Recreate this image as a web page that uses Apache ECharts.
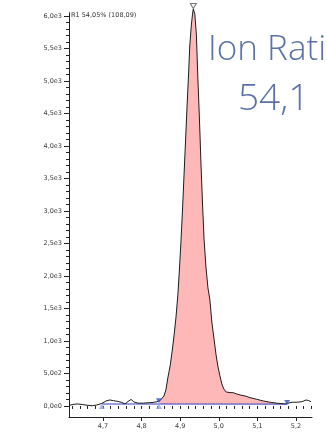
<!DOCTYPE html>
<html>
<head>
<meta charset="utf-8">
<style>
  html, body { margin: 0; padding: 0; background: #fff; }
  #chart { width: 327px; height: 433px; }
</style>
<script src="https://cdn.jsdelivr.net/npm/echarts@6/dist/echarts.min.js"></script>
</head>
<body>
<div id="chart"></div>
<script>
// Retention time (min) of each sample of the trace
const times = [
  4.612, 4.622, 4.633, 4.646, 4.659, 4.672, 4.684, 4.697, 4.708, 4.718,
  4.728, 4.739, 4.749, 4.757, 4.765, 4.773, 4.780, 4.791, 4.804, 4.817,
  4.830, 4.840, 4.848, 4.853, 4.858, 4.863, 4.868, 4.874, 4.879, 4.884,
  4.889, 4.894, 4.898, 4.902, 4.906, 4.910, 4.914, 4.918, 4.922, 4.925,
  4.929, 4.932, 4.934, 4.938, 4.942, 4.946, 4.950, 4.954, 4.958, 4.962,
  4.967, 4.972, 4.977, 4.982, 4.988, 4.993, 4.998, 5.003, 5.008, 5.013,
  5.019, 5.029, 5.037, 5.046, 5.055, 5.068, 5.081, 5.098, 5.115, 5.133,
  5.151, 5.172, 5.179, 5.190, 5.203, 5.216, 5.226, 5.233, 5.239
];
// Signal intensity at each retention time
const intensities = [
  8, 23, 31, 23, 11, 3, 15, 38, 77, 92,
  80, 69, 54, 31, 69, 100, 62, 43, 43, 49,
  54, 65, 85, 108, 154, 246, 431, 615, 831, 1077,
  1354, 1708, 2092, 2523, 3015, 3554, 4092, 4631, 5138, 5554,
  5862, 6031, 6108, 6031, 5708, 5015, 4400, 3708, 3092, 2554,
  2123, 1815, 1631, 1292, 1015, 785, 600, 462, 338, 262,
  215, 205, 205, 185, 169, 154, 128, 103, 77, 57,
  42, 31, 42, 57, 57, 66, 92, 82, 66
];
// Integration window of the R1 peak and its baseline
const peakStart = 4.845;
const peakEnd = 5.177;
const peakApex = 4.935;
const apexHeight = 6108;
const baselineTimes = [4.697, 4.848, 5.177];
const baselineLevels = [30, 30, 28];
// Neighbouring integration markers
const prevMarkerTimes = [4.697, 4.845];
const peakMarkerTimes = [4.845, 5.177];
const peakMarkerLevels = [80, 55];
// Axis ticks
const yMajorTicks = [0, 500, 1000, 1500, 2000, 2500, 3000, 3500, 4000, 4500, 5000, 5500, 6000];
const xMajorTicks = [4.7, 4.8, 4.9, 5.0, 5.1, 5.2];
const peakLabel = 'R1 54,05% (108,09)';
const ratioTitle = 'Ion Ratio';
const ratioValue = '54,1';

const yMinorTicks = [];
for (let v = 0; v <= 6000; v += 100) yMinorTicks.push(v);
const xMinorTicks = [];
for (let k = 0; k <= 31; k++) xMinorTicks.push(+(4.62 + 0.02 * k).toFixed(2));

const trace = times.map((t, i) => [t, intensities[i]]);
const peakArea = trace.filter(p => p[0] >= peakStart - 1e-6 && p[0] <= peakEnd + 1e-6);
const baseline = baselineTimes.map((t, i) => [t, baselineLevels[i]]);

const yMin = -170, yMax = 6050;
const xMin = 4.612, xMax = 5.2415;

function sciLabel(v) {
  if (v === 0) return '0,0e0';
  const e = Math.floor(Math.log10(v) + 1e-9);
  const m = v / Math.pow(10, e);
  return m.toFixed(1).replace('.', ',') + 'e' + e;
}

const labelFont = { fontFamily: 'DejaVu Sans', fontSize: 6.5, color: '#3a3a3a' };

const chart = echarts.init(document.getElementById('chart'), null, { renderer: 'canvas' });
chart.setOption({
  animation: false,
  backgroundColor: '#ffffff',
  grid: { left: 69, right: 15, top: 12.75, bottom: 16, containLabel: false },
  xAxis: [
    {
      type: 'value', min: xMin, max: xMax,
      axisLine: { show: true, onZero: false, lineStyle: { color: '#222', width: 1 } },
      axisTick: { show: true, customValues: xMajorTicks, length: 4, lineStyle: { color: '#222' } },
      axisLabel: Object.assign({ show: true, customValues: xMajorTicks, margin: 6,
        formatter: v => v.toFixed(1).replace('.', ',') }, labelFont),
      splitLine: { show: false }
    },
    {
      type: 'value', min: xMin, max: xMax, position: 'bottom', gridIndex: 0,
      axisLine: { show: false },
      axisTick: { show: true, customValues: xMinorTicks, length: 3, lineStyle: { color: '#222' } },
      axisLabel: { show: false },
      splitLine: { show: false }
    }
  ],
  yAxis: [
    {
      type: 'value', min: yMin, max: yMax,
      axisLine: { show: true, onZero: false, lineStyle: { color: '#222', width: 1 } },
      axisTick: { show: true, customValues: yMajorTicks, length: 5, lineStyle: { color: '#222' } },
      axisLabel: Object.assign({ show: true, customValues: yMajorTicks, margin: 7,
        formatter: sciLabel }, labelFont),
      splitLine: { show: false }
    },
    {
      type: 'value', min: yMin, max: yMax, position: 'left', gridIndex: 0,
      axisLine: { show: false },
      axisTick: { show: true, customValues: yMinorTicks, length: 3, lineStyle: { color: '#222' } },
      axisLabel: { show: false },
      splitLine: { show: false }
    }
  ],
  series: [
    {
      name: 'R1 area', type: 'line', data: peakArea, clip: false,
      symbol: 'none', lineStyle: { width: 0 },
      areaStyle: { color: '#ffb8b8', opacity: 1, origin: 29 },
      z: 1
    },
    {
      name: 'Baseline', type: 'line', data: baseline, clip: false,
      symbol: 'none', lineStyle: { color: '#2c3cc0', width: 1 },
      z: 2
    },
    {
      name: 'Trace', type: 'line', data: trace, clip: false,
      symbol: 'none', lineStyle: { color: '#1c1c1c', width: 1 },
      z: 3,
      markLine: {
        silent: true, symbol: 'none', label: { show: false },
        lineStyle: { color: '#3a3a90', width: 1, type: [3, 2] },
        data: [[{ coord: [peakApex, apexHeight] }, { coord: [peakApex, yMin] }]]
      }
    },
    {
      name: 'Previous markers', type: 'scatter', clip: false,
      data: prevMarkerTimes.map(t => [t, -10]),
      symbol: 'triangle', symbolSize: [6, 5],
      itemStyle: { color: '#8ea3e8' }, z: 4
    },
    {
      name: 'Peak markers', type: 'scatter', clip: false,
      data: peakMarkerTimes.map((t, i) => [t, peakMarkerLevels[i]]),
      symbol: 'triangle', symbolRotate: 180, symbolSize: [6, 5],
      itemStyle: { color: '#3550c8' }, z: 5
    },
    {
      name: 'Apex', type: 'scatter', clip: false,
      data: [[peakApex - 0.001, apexHeight]],
      symbol: 'triangle', symbolRotate: 180, symbolSize: [6, 5], symbolOffset: [0, -3],
      itemStyle: { color: '#ffffff', borderColor: '#555', borderWidth: 1 }, z: 6
    }
  ],
  graphic: [
    {
      type: 'text', x: 71, y: 12, silent: true,
      style: { text: peakLabel, fill: '#333', font: '6.5px "DejaVu Sans"', verticalAlign: 'top' }
    },
    {
      type: 'text', x: 208, y: 32.5, silent: true,
      style: { text: ratioTitle, fill: '#5a72a8', font: '300 35px "Open Sans"', verticalAlign: 'top' }
    },
    {
      type: 'text', x: 238, y: 81, silent: true,
      style: { text: ratioValue, fill: '#5a72a8', font: '300 37px "Open Sans"', verticalAlign: 'top' }
    }
  ]
});
</script>
</body>
</html>
